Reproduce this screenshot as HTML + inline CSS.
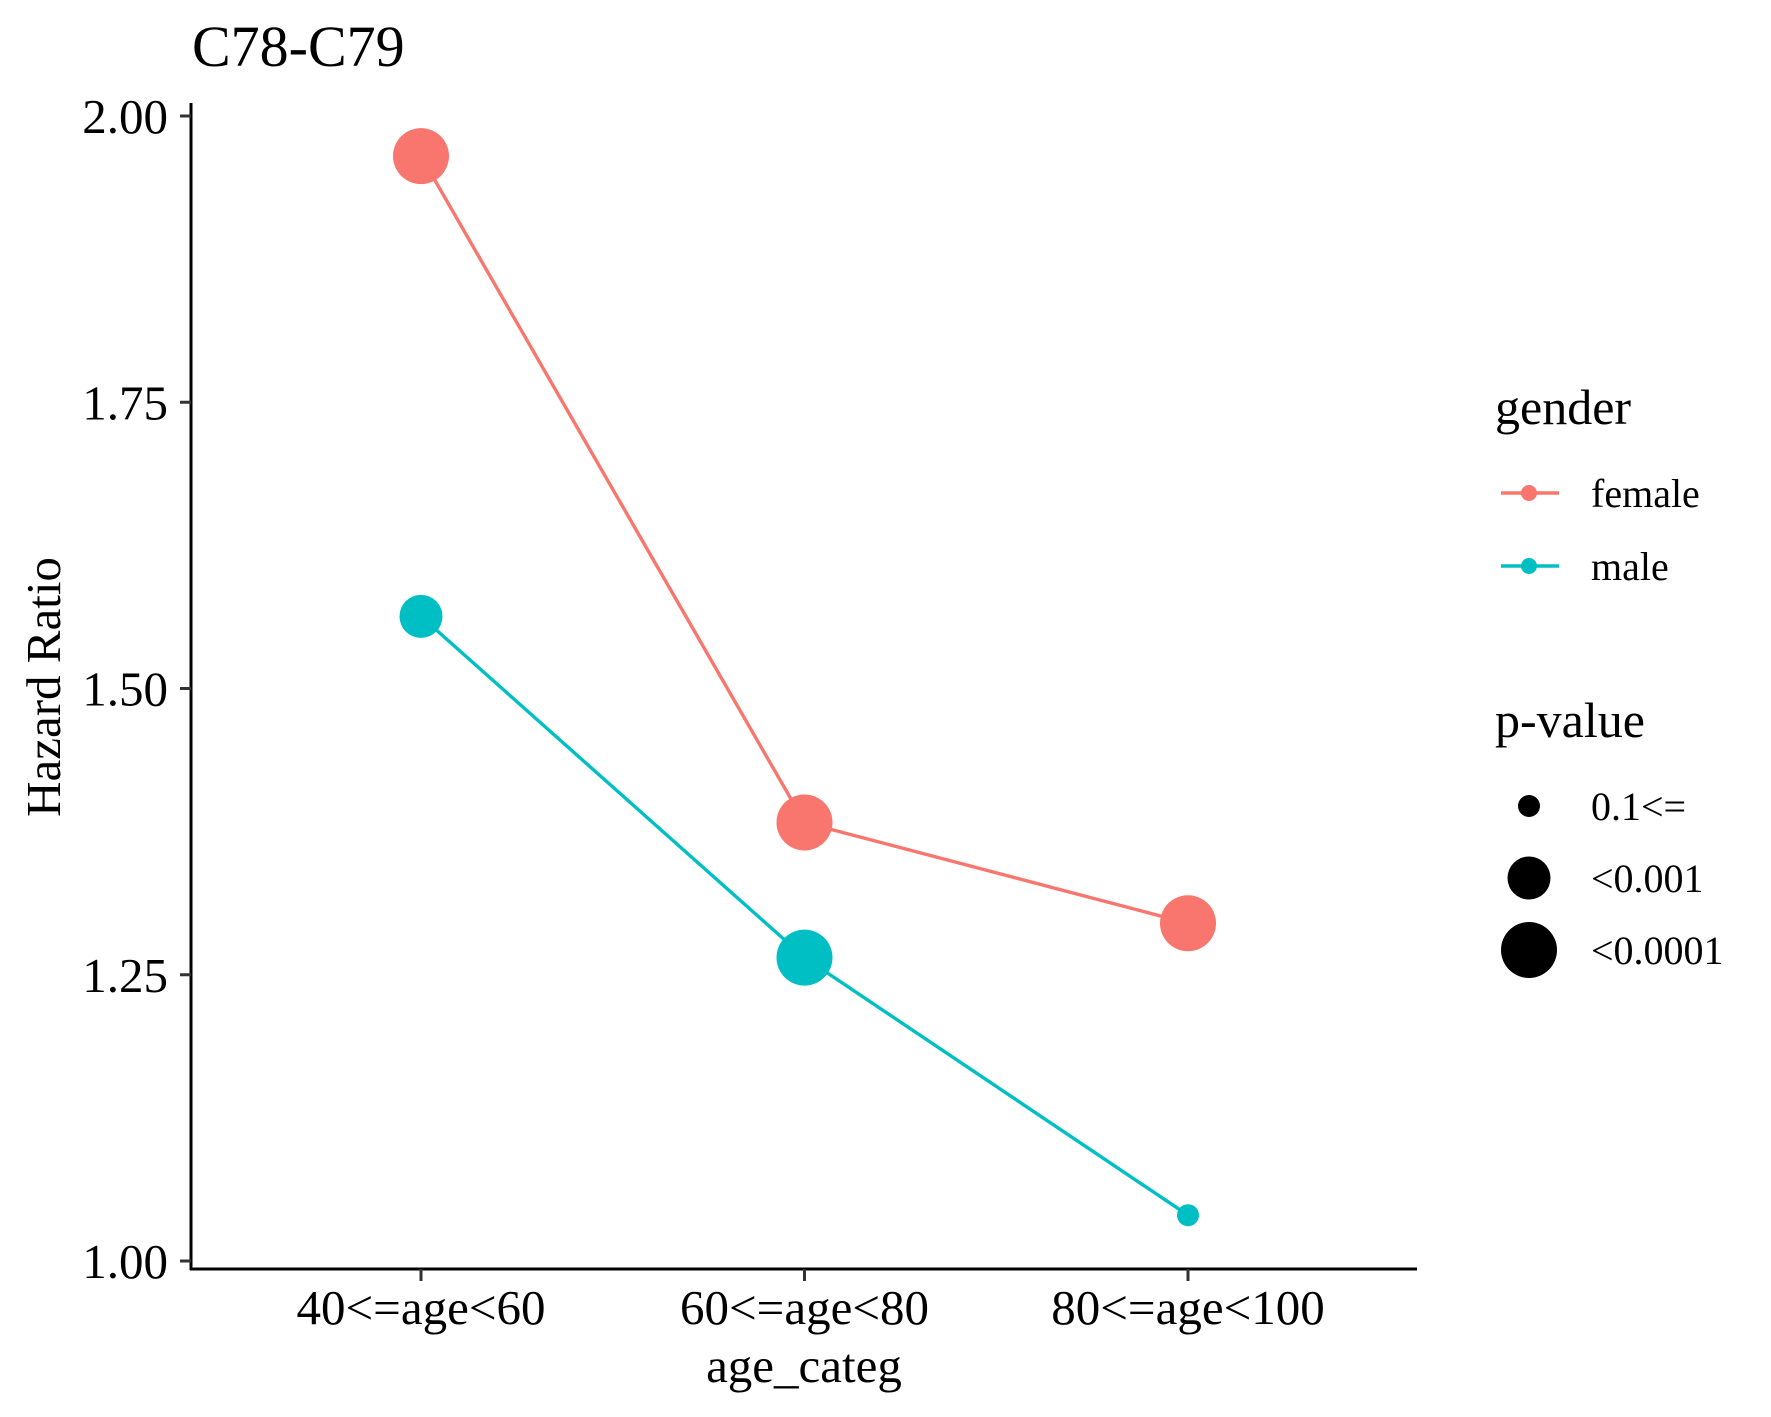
<!DOCTYPE html>
<html><head><meta charset="utf-8"><style>body{margin:0;background:#fff}svg{display:block;font-family:"Liberation Serif",serif}</style></head><body>
<svg id="c" width="1771" height="1417" viewBox="0 0 1771 1417">
<text x="192" y="66" font-size="58">C78-C79</text>
<g id="plot"></g>
<text transform="translate(60,687) rotate(-90)" text-anchor="middle" font-size="49">Hazard Ratio</text>
<text x="804" y="1382" text-anchor="middle" font-size="49">age_categ</text>
<g>
<text x="1495" y="424" font-size="50">gender</text>
<g><line x1="1501" y1="493" x2="1559" y2="493" stroke="#F8766D" stroke-width="3.4"/><circle cx="1529" cy="493" r="8" fill="#F8766D"/><text x="1591" y="507" font-size="40">female</text></g>
<g><line x1="1501" y1="566" x2="1559" y2="566" stroke="#00BFC4" stroke-width="3.4"/><circle cx="1529" cy="566" r="8" fill="#00BFC4"/><text x="1591" y="580" font-size="40">male</text></g>
<text x="1495" y="737" font-size="50">p-value</text>
<g><circle cx="1529" cy="806" r="11"/><text x="1591" y="820" font-size="40">0.1&lt;=</text></g>
<g><circle cx="1529" cy="878" r="21.5"/><text x="1591" y="892" font-size="40">&lt;0.001</text></g>
<g><circle cx="1529" cy="950" r="28"/><text x="1591" y="964" font-size="40">&lt;0.0001</text></g>
</g>
</svg>
<script>
const categories=["40<=age<60","60<=age<80","80<=age<100"];
const femaleHR=[1.965,1.383,1.295];
const maleHR=[1.563,1.265,1.04];
const femaleP=["<0.0001","<0.0001","<0.0001"];
const maleP=["<0.001","<0.0001","0.1<="];
const yTicks=[1.00,1.25,1.50,1.75,2.00];
const NS="http://www.w3.org/2000/svg";
const g=document.getElementById('plot');
const X=i=>421+i*383.5;
const Y=v=>1261-(v-1)*1145;
const R={"0.1<=":11,"<0.001":21.5,"<0.0001":28};
function el(t,a,p){const e=document.createElementNS(NS,t);for(const k in a)e.setAttribute(k,a[k]);(p||g).appendChild(e);return e;}
const ya=el('line',{x1:191,y1:103,x2:191,y2:1270,stroke:'#000','stroke-width':3});


const xa=el('line',{x1:190,y1:1269,x2:1417,y2:1269,stroke:'#000','stroke-width':3});


yTicks.forEach(v=>{
 const t=el('line',{x1:180,y1:Y(v),x2:191,y2:Y(v),stroke:'#333','stroke-width':3});
 
 
 const l=el('text',{x:168,y:Y(v)+17,'text-anchor':'end','font-size':49});
 
 
 l.textContent=v.toFixed(2);
});
categories.forEach((c,i)=>{
 const t=el('line',{x1:X(i),y1:1269,x2:X(i),y2:1281,stroke:'#333','stroke-width':3});
 
 
 const l=el('text',{x:X(i),y:1324,'text-anchor':'middle','font-size':49});
 
 
 l.textContent=c;
});
function series(vals,ps,col,name){
 const pl=el('polyline',{points:vals.map((v,i)=>X(i)+','+Y(v)).join(' '),fill:'none',stroke:col,'stroke-width':3.4});
 
 
 vals.forEach((v,i)=>{
  const c=el('circle',{cx:X(i),cy:Y(v),r:R[ps[i]],fill:col});
  
  
 });
}
series(femaleHR,femaleP,'#F8766D','female');
series(maleHR,maleP,'#00BFC4','male');
</script>
</body></html>
